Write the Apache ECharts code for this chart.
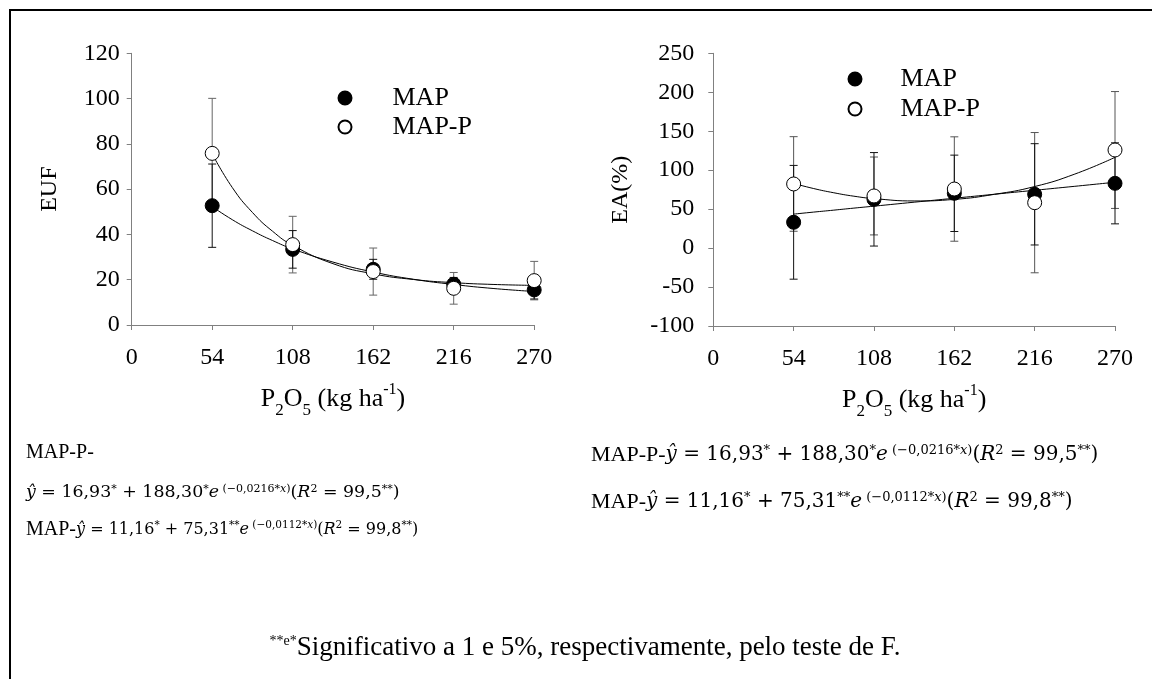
<!DOCTYPE html>
<html>
<head>
<meta charset="utf-8">
<script src="https://cdn.jsdelivr.net/npm/echarts@6/dist/echarts.min.js"></script>
<style>
  html, body { margin: 0; background: #fff; }
  #main { width: 1152px; height: 679px; }
</style>
</head>
<body>
<div id="main"></div>
<script>
// doses de P2O5 (kg/ha)
var doses = [54, 108, 162, 216, 270];

// EUF (grafico da esquerda): media e desvio
var eufMap = [52.7, 33.4, 24.6, 18.0, 15.5];
var eufMapSd = [18.4, 8.3, 4.4, 3.0, 4.0];
var eufMapP = [75.8, 35.5, 23.6, 16.2, 19.6];
var eufMapPSd = [24.3, 12.5, 10.4, 7.0, 8.5];

// EA (%) (grafico da direita)
var eaMap = [33.1, 62.6, 70.3, 69.0, 83.1];
var eaMapSd = [73, 60, 49, 65, 52];
var eaMapP = [82.3, 66.9, 75.8, 58.3, 125.9];
var eaMapPSd = [60.7, 50, 67, 90, 75];

// curvas ajustadas
var curveX = [54, 67.5, 81, 94.5, 108, 135, 162, 189, 216, 243, 270];
var eufMapCurve = [52.3, 46.5, 41.6, 37.3, 33.6, 27.8, 23.4, 20.2, 17.9, 16.1, 14.8];
var eufMapPCurve = [75.6, 60.7, 49.7, 41.4, 35.2, 27.1, 22.6, 20.1, 18.7, 17.9, 17.5];
var eaMapCurve = [43.6, 46.2, 48.7, 51.3, 53.8, 58.9, 64.0, 69.1, 74.2, 79.3, 84.5];
var eaMapPCurve = [83.0, 76.4, 71.0, 66.6, 63.5, 60.5, 62.5, 69.0, 79.0, 95.0, 116.5];

var serif = 'Liberation Serif';
var mathFont = 'DejaVu Serif';
var eqColor = '#221a38';

function pairs(xs, ys) {
    return xs.map(function (x, i) { return [x, ys[i]]; });
}
function errData(means, sds) {
    return doses.map(function (x, i) { return [x, means[i] - sds[i], means[i] + sds[i]]; });
}
function errorBars(color) {
    return function (params, api) {
        var x = api.value(0);
        var lo = api.coord([x, api.value(1)]);
        var hi = api.coord([x, api.value(2)]);
        var w = 4;
        var style = { stroke: color, lineWidth: 1 };
        return {
            type: 'group',
            children: [
                { type: 'line', shape: { x1: lo[0], y1: lo[1], x2: hi[0], y2: hi[1] }, style: style },
                { type: 'line', shape: { x1: hi[0] - w, y1: hi[1], x2: hi[0] + w, y2: hi[1] }, style: style },
                { type: 'line', shape: { x1: lo[0] - w, y1: lo[1], x2: lo[0] + w, y2: lo[1] }, style: style }
            ]
        };
    };
}

var axisName = {
    a: { fontFamily: serif, fontSize: 26, color: '#000' },
    s: { fontFamily: serif, fontSize: 17, color: '#000', verticalAlign: 'bottom', padding: [0, 0, -7, 0] },
    u: { fontFamily: serif, fontSize: 16, color: '#000', verticalAlign: 'top', padding: [-4, 0, 0, 0] }
};
var p2o5 = '{a|P}{s|2}{a|O}{s|5}{a| (kg ha}{u|-1}{a|)}';

function xAxisCfg(gridIndex) {
    return {
        type: 'value', gridIndex: gridIndex, min: 0, max: 270, interval: 54,
        axisLine: { onZero: false, lineStyle: { color: '#808080', width: 1 } },
        axisTick: { length: 5, lineStyle: { color: '#808080' } },
        axisLabel: { fontFamily: serif, fontSize: 24, color: '#000', margin: 21 },
        splitLine: { show: false },
        name: p2o5, nameLocation: 'middle', nameGap: 61,
        nameTextStyle: { rich: axisName }
    };
}
function yAxisCfg(gridIndex, min, max, step, title, gap, margin) {
    return {
        type: 'value', gridIndex: gridIndex, min: min, max: max, interval: step,
        axisLine: { show: true, lineStyle: { color: '#808080', width: 1 } },
        axisTick: { show: true, length: 5, lineStyle: { color: '#808080' } },
        axisLabel: { fontFamily: serif, fontSize: 24, color: '#000', margin: margin },
        splitLine: { show: false },
        name: title, nameLocation: 'middle', nameGap: gap,
        nameTextStyle: { fontFamily: serif, fontSize: 24, color: '#000' }
    };
}

var filled = { color: '#000', borderColor: '#000', borderWidth: 1, opacity: 1 };
var hollow = { color: '#fff', borderColor: '#000', borderWidth: 1, opacity: 1 };
var curveLine = { color: '#000', width: 1 };

function eqStyle(textSize, mathSize, supSize) {
    return {
        t: { fontFamily: serif, fontSize: textSize, color: '#000' },
        m: { fontFamily: mathFont, fontSize: mathSize, color: eqColor },
        i: { fontFamily: mathFont, fontSize: mathSize, color: eqColor, fontStyle: 'italic' },
        sup: { fontFamily: mathFont, fontSize: supSize, color: eqColor, verticalAlign: 'top' },
        supi: { fontFamily: mathFont, fontSize: supSize, color: eqColor, fontStyle: 'italic', verticalAlign: 'top' }
    };
}
var eqLeft = eqStyle(20, 17.4, 11);
var eqLeftB = eqStyle(20, 16, 10.5);
var eqRight = eqStyle(22, 20, 13);
var eqMapP = '{i|ŷ}{m| = 16,93}{sup|*}{m| + 188,30}{sup|*}{i|e}{sup| (−0,0216*}{supi|x}{sup|)}{m|(}{i|R}{sup|2}{m| = 99,5}{sup|**}{m|)}';
var eqMap = '{i|ŷ}{m| = 11,16}{sup|*}{m| + 75,31}{sup|**}{i|e}{sup| (−0,0112*}{supi|x}{sup|)}{m|(}{i|R}{sup|2}{m| = 99,8}{sup|**}{m|)}';

var chart = echarts.init(document.getElementById('main'));
chart.setOption({
    backgroundColor: '#fff',
    animation: false,
    grid: [
        { left: 131.7, top: 53.3, width: 402.5, height: 271.7 },
        { left: 713.3, top: 53.3, width: 401.7, height: 272.7 }
    ],
    xAxis: [xAxisCfg(0), xAxisCfg(1)],
    yAxis: [
        yAxisCfg(0, 0, 120, 20, 'EUF', 70, 12),
        yAxisCfg(1, -100, 250, 50, 'EA(%)', 81, 19)
    ],
    legend: [
        {
            data: ['MAP', 'MAP-P'], orient: 'vertical', left: 332.5, top: 80,
            itemWidth: 13, itemHeight: 13, itemGap: 3,
            textStyle: { fontFamily: serif, fontSize: 26, lineHeight: 26, color: '#000', padding: [0, 0, 0, 36] }
        },
        {
            data: ['MAP', 'MAP-P'], orient: 'vertical', left: 842.5, top: 61,
            itemWidth: 13, itemHeight: 13, itemGap: 4,
            textStyle: { fontFamily: serif, fontSize: 26, lineHeight: 26, color: '#000', padding: [0, 0, 0, 34] }
        }
    ],
    graphic: [
        { type: 'rect', shape: { x: 10, y: 10, width: 1300, height: 800 }, style: { fill: 'none', stroke: '#000', lineWidth: 2 } },
        { type: 'text', left: 26, top: 443, style: { text: '{t|MAP-P-}', rich: eqLeft } },
        { type: 'text', left: 26, top: 484, style: { text: eqMapP, rich: eqLeft } },
        { type: 'text', left: 26, top: 520, style: { text: '{t|MAP-}' + eqMap, rich: eqLeftB } },
        { type: 'text', left: 591, top: 444, style: { text: '{t|MAP-P-}' + eqMapP, rich: eqRight } },
        { type: 'text', left: 591, top: 491, style: { text: '{t|MAP-}' + eqMap, rich: eqRight } },
        {
            type: 'text', x: 585, y: 648,
            style: {
                text: '{s|**e*}{f|Significativo a 1 e 5%, respectivamente, pelo teste de F.}',
                align: 'center', verticalAlign: 'middle',
                rich: {
                    s: { fontFamily: serif, fontSize: 14, color: '#333', verticalAlign: 'top' },
                    f: { fontFamily: serif, fontSize: 27, color: '#000' }
                }
            }
        }
    ],
    series: [
        { name: 'MAP-P dp', type: 'custom', xAxisIndex: 0, yAxisIndex: 0, z: 2, renderItem: errorBars('#666'), data: errData(eufMapP, eufMapPSd) },
        { name: 'MAP dp', type: 'custom', xAxisIndex: 0, yAxisIndex: 0, z: 2, renderItem: errorBars('#111'), data: errData(eufMap, eufMapSd) },
        { name: 'MAP ajuste', type: 'line', xAxisIndex: 0, yAxisIndex: 0, z: 3, smooth: true, showSymbol: false, lineStyle: curveLine, data: pairs(curveX, eufMapCurve) },
        { name: 'MAP-P ajuste', type: 'line', xAxisIndex: 0, yAxisIndex: 0, z: 3, smooth: true, showSymbol: false, lineStyle: curveLine, data: pairs(curveX, eufMapPCurve) },
        { name: 'MAP', type: 'scatter', xAxisIndex: 0, yAxisIndex: 0, z: 4, symbolSize: 14, itemStyle: filled, data: pairs(doses, eufMap) },
        { name: 'MAP-P', type: 'scatter', xAxisIndex: 0, yAxisIndex: 0, z: 5, symbolSize: 14, itemStyle: hollow, data: pairs(doses, eufMapP) },

        { name: 'MAP-P dp', type: 'custom', xAxisIndex: 1, yAxisIndex: 1, z: 2, renderItem: errorBars('#555'), data: errData(eaMapP, eaMapPSd) },
        { name: 'MAP dp', type: 'custom', xAxisIndex: 1, yAxisIndex: 1, z: 2, renderItem: errorBars('#111'), data: errData(eaMap, eaMapSd) },
        { name: 'MAP ajuste', type: 'line', xAxisIndex: 1, yAxisIndex: 1, z: 3, smooth: true, showSymbol: false, lineStyle: curveLine, data: pairs(curveX, eaMapCurve) },
        { name: 'MAP-P ajuste', type: 'line', xAxisIndex: 1, yAxisIndex: 1, z: 3, smooth: true, showSymbol: false, lineStyle: curveLine, data: pairs(curveX, eaMapPCurve) },
        { name: 'MAP', type: 'scatter', xAxisIndex: 1, yAxisIndex: 1, z: 4, symbolSize: 14, itemStyle: filled, data: pairs(doses, eaMap) },
        { name: 'MAP-P', type: 'scatter', xAxisIndex: 1, yAxisIndex: 1, z: 5, symbolSize: 14, itemStyle: hollow, data: pairs(doses, eaMapP) }
    ]
});

window.addEventListener('resize', function () {
    chart.resize();
});
</script>
</body>
</html>
